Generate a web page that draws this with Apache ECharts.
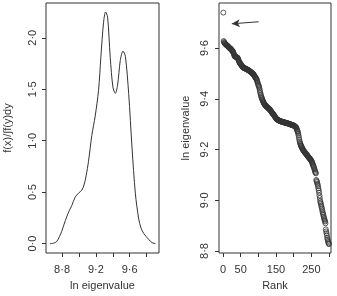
<!DOCTYPE html>
<html>
<head>
<meta charset="utf-8">
<script src="https://cdn.jsdelivr.net/npm/echarts@6/dist/echarts.min.js"></script>
<style>
  html, body { margin: 0; padding: 0; background: #fff; }
  #chart { width: 337px; height: 296px; }
</style>
</head>
<body>
<div id="chart"></div>
<script>
// density of ln eigenvalue (left panel)
var densX = [8.657, 8.70, 8.737, 8.77, 8.796, 8.825, 8.855, 8.885, 8.915, 8.954,
  8.994, 9.034, 9.06, 9.085, 9.113, 9.152, 9.192, 9.232, 9.259, 9.291,
  9.315, 9.339, 9.370, 9.402, 9.430, 9.457, 9.489, 9.521, 9.549, 9.588,
  9.628, 9.667, 9.707, 9.735, 9.766, 9.826, 9.865, 9.905]
var densY = [0.00, 0.005, 0.02, 0.07, 0.12, 0.19, 0.26, 0.32, 0.37, 0.45,
  0.49, 0.52, 0.57, 0.66, 0.80, 1.05, 1.24, 1.49, 1.81, 2.15,
  2.25, 2.20, 1.81, 1.52, 1.46, 1.54, 1.78, 1.87, 1.82, 1.46,
  0.93, 0.49, 0.24, 0.15, 0.10, 0.04, 0.01, 0.00]

// ln eigenvalue by rank (right panel), rank = index + 1
var eigenValues = [
  9.740, 9.628, 9.624, 9.621, 9.619, 9.618, 9.616, 9.615, 9.613, 9.612,
  9.611, 9.610, 9.609, 9.607, 9.606, 9.604, 9.603, 9.601, 9.600, 9.599,
  9.598, 9.597, 9.595, 9.593, 9.592, 9.590, 9.588, 9.587, 9.584, 9.580,
  9.576, 9.572, 9.568, 9.567, 9.566, 9.566, 9.565, 9.564, 9.564, 9.563,
  9.562, 9.560, 9.557, 9.553, 9.549, 9.546, 9.543, 9.541, 9.539, 9.537,
  9.535, 9.533, 9.531, 9.529, 9.527, 9.525, 9.524, 9.523, 9.522, 9.522,
  9.521, 9.520, 9.520, 9.519, 9.518, 9.518, 9.517, 9.516, 9.515, 9.515,
  9.514, 9.513, 9.512, 9.511, 9.510, 9.509, 9.508, 9.507, 9.506, 9.504,
  9.503, 9.502, 9.501, 9.500, 9.499, 9.497, 9.495, 9.493, 9.491, 9.488,
  9.486, 9.484, 9.482, 9.480, 9.477, 9.473, 9.469, 9.464, 9.459, 9.455,
  9.451, 9.448, 9.442, 9.435, 9.428, 9.422, 9.416, 9.410, 9.406, 9.402,
  9.398, 9.395, 9.391, 9.388, 9.385, 9.382, 9.380, 9.378, 9.376, 9.374,
  9.373, 9.371, 9.370, 9.369, 9.367, 9.366, 9.365, 9.364, 9.362, 9.361,
  9.360, 9.359, 9.357, 9.355, 9.353, 9.351, 9.349, 9.347, 9.345, 9.343,
  9.341, 9.340, 9.338, 9.336, 9.334, 9.332, 9.330, 9.328, 9.325, 9.323,
  9.321, 9.320, 9.319, 9.318, 9.317, 9.316, 9.316, 9.315, 9.314, 9.313,
  9.313, 9.312, 9.312, 9.311, 9.311, 9.310, 9.310, 9.309, 9.309, 9.308,
  9.308, 9.308, 9.307, 9.307, 9.306, 9.306, 9.306, 9.305, 9.305, 9.305,
  9.304, 9.304, 9.303, 9.303, 9.302, 9.302, 9.301, 9.301, 9.300, 9.300,
  9.299, 9.299, 9.298, 9.298, 9.297, 9.297, 9.296, 9.296, 9.295, 9.295,
  9.294, 9.293, 9.292, 9.291, 9.290, 9.289, 9.287, 9.284, 9.280, 9.276,
  9.272, 9.268, 9.262, 9.255, 9.247, 9.239, 9.232, 9.226, 9.222, 9.218,
  9.215, 9.212, 9.209, 9.206, 9.203, 9.200, 9.198, 9.196, 9.194, 9.192,
  9.190, 9.188, 9.186, 9.185, 9.183, 9.182, 9.180, 9.178, 9.176, 9.174,
  9.172, 9.170, 9.169, 9.167, 9.165, 9.164, 9.162, 9.160, 9.158, 9.156,
  9.153, 9.150, 9.146, 9.142, 9.138, 9.135, 9.131, 9.127, 9.122, 9.117,
  9.112, 9.109, 9.106, 9.080, 9.076, 9.072, 9.066, 9.061, 9.055, 9.047,
  9.039, 9.030, 9.019, 9.009, 8.998, 8.992, 8.986, 8.979, 8.973, 8.967,
  8.960, 8.953, 8.947, 8.942, 8.936, 8.930, 8.925, 8.920, 8.916, 8.909,
  8.885, 8.877, 8.870, 8.862, 8.852, 8.846, 8.840, 8.835, 8.830, 8.827
]

// tick positions / labels
var leftXTicks = [8.8, 9.0, 9.2, 9.4, 9.6, 9.8]
var leftXLabels = [8.8, 9.2, 9.6]
var leftYTicks = [0, 0.5, 1.0, 1.5, 2.0]
var rightXTicks = [0, 50, 100, 150, 200, 250, 300]
var rightXLabels = [0, 50, 150, 250]
var rightYTicks = [8.8, 9.0, 9.2, 9.4, 9.6]

// arrow pointing at the top eigenvalue
var arrowFrom = [101, 9.704]
var arrowTo = [25, 9.696]

var ink = '#333'
var font = 'Liberation Sans, Arial, sans-serif'
var dot = function (v) { return v.toFixed(1).replace('.', '\u00b7') }

var densData = densX.map(function (x, i) { return [x, densY[i]] })
var rankData = eigenValues.map(function (v, i) { return [i + 1, v] })

function axisBase(ticks, labels, fmt, margin, rotate) {
  return {
    axisLine: { show: false, onZero: false },
    splitLine: { show: false },
    axisTick: { show: true, length: 4, customValues: ticks, lineStyle: { color: ink, width: 1 } },
    axisLabel: { customValues: labels, formatter: fmt, color: ink, fontSize: 11, fontFamily: font, margin: margin, rotate: rotate || 0 },
    nameTextStyle: { color: ink, fontSize: 11, fontFamily: font }
  }
}

var gridBox = { show: true, borderColor: ink, borderWidth: 1, backgroundColor: 'transparent' }

var option = {
  animation: false,
  backgroundColor: '#fff',
  grid: [
    Object.assign({ left: 46, top: 3, width: 113, height: 259 }, gridBox),
    Object.assign({ left: 219, top: 3, width: 112, height: 259 }, gridBox)
  ],
  xAxis: [
    Object.assign(axisBase(leftXTicks, leftXLabels, dot, 11), {
      type: 'value', gridIndex: 0, min: 8.61, max: 9.947,
      name: 'ln eigenvalue', nameLocation: 'middle', nameGap: 27
    }),
    Object.assign(axisBase(rightXTicks, rightXLabels, function (v) { return String(v) }, 11), {
      type: 'value', gridIndex: 1, min: -11.3, max: 305.7,
      name: 'Rank', nameLocation: 'middle', nameGap: 27
    })
  ],
  yAxis: [
    Object.assign(axisBase(leftYTicks, leftYTicks, dot, 8, 90), {
      type: 'value', gridIndex: 0, min: -0.091, max: 2.338,
      name: 'f(x)/\u222bf(y)dy', nameLocation: 'middle', nameGap: 33
    }),
    Object.assign(axisBase(rightYTicks, rightYTicks, dot, 9, 90), {
      type: 'value', gridIndex: 1, min: 8.792, max: 9.778,
      name: 'ln eigenvalue', nameLocation: 'middle', nameGap: 28
    })
  ],
  series: [
    {
      type: 'line', xAxisIndex: 0, yAxisIndex: 0,
      data: densData, smooth: 0.3, showSymbol: false,
      lineStyle: { color: ink, width: 1 }
    },
    {
      type: 'scatter', xAxisIndex: 1, yAxisIndex: 1,
      data: rankData, symbol: 'circle', symbolSize: 5,
      itemStyle: { color: 'rgba(0,0,0,0)', borderColor: ink, borderWidth: 1 },
      markLine: {
        silent: true, symbol: ['none', 'arrow'], symbolSize: [6, 8],
        label: { show: false },
        lineStyle: { color: ink, width: 1, type: 'solid' },
        data: [[{ coord: arrowFrom }, { coord: arrowTo }]]
      }
    }
  ]
}

var chart = echarts.init(document.getElementById('chart'))
chart.setOption(option)
</script>
</body>
</html>
